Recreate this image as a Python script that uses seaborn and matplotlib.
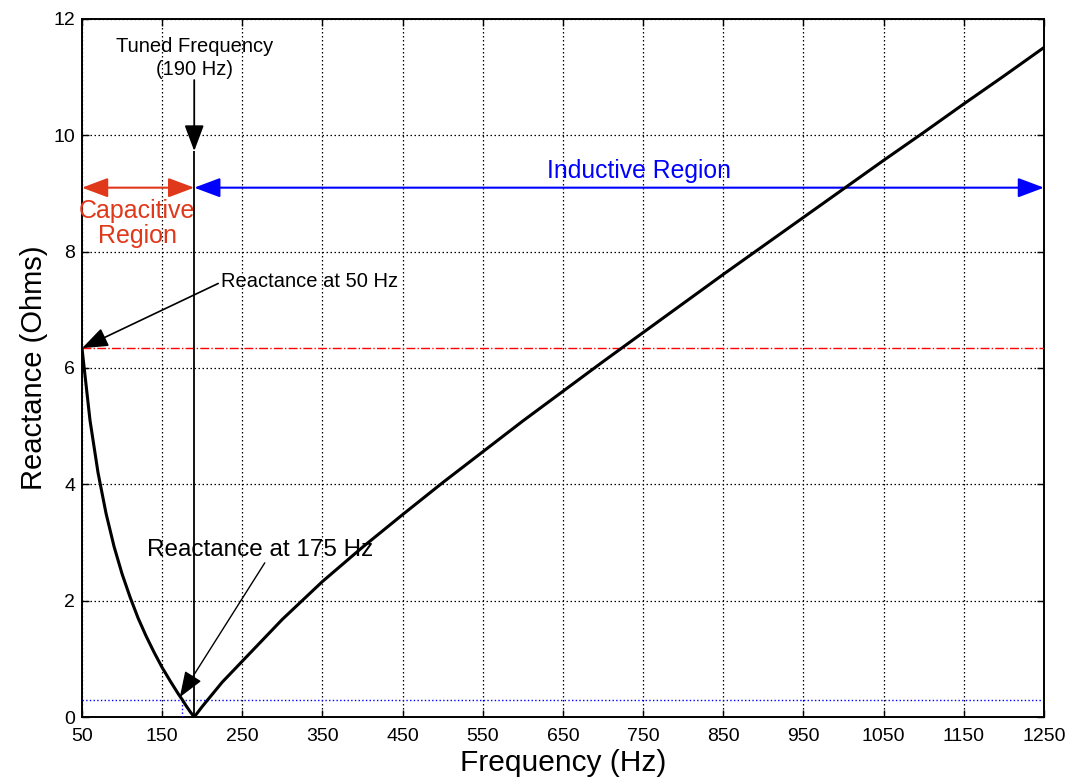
import numpy as np
import pandas as pd
import matplotlib
matplotlib.use("Agg")
import matplotlib.pyplot as plt
import seaborn as sns

# reactance curve of the tuned filter
freq_hz = [50, 60, 70, 80, 90, 100, 110, 120, 130, 140, 150, 160, 170, 175,
           180, 185, 190, 200, 225, 250, 275, 300, 350, 400, 450, 500, 550, 600,
           650, 700, 750, 800, 850, 900, 950, 1000, 1050, 1100, 1150, 1200, 1250]
reactance_ohm = [6.34, 5.10, 4.20, 3.50, 2.93, 2.46, 2.06, 1.70, 1.39, 1.11,
                 0.85, 0.62, 0.40, 0.30, 0.19, 0.09, 0.0, 0.18, 0.60, 0.96,
                 1.32, 1.68, 2.33, 2.92, 3.48, 4.03, 4.56, 5.09, 5.60, 6.11, 6.61,
                 7.11, 7.61, 8.10, 8.59, 9.08, 9.57, 10.05, 10.54, 11.02, 11.51]

tuned_hz = 190
x_at_50 = 6.34
x_at_175 = 0.30
region_y = 9.1

xticks = list(range(50, 1251, 100))
yticks = [0, 2, 4, 6, 8, 10, 12]

red = "#E0381A"
blue = "#0000FF"

sns.set_style("ticks")
plt.rcParams["font.family"] = ["Liberation Sans", "DejaVu Sans"]
plt.rcParams["text.color"] = "black"
plt.rcParams["axes.labelcolor"] = "black"

df = pd.DataFrame({"Frequency (Hz)": freq_hz, "Reactance (Ohms)": reactance_ohm})

fig = plt.figure(figsize=(10.69, 7.78), dpi=100)
ax = fig.add_axes([0.0767, 0.0784, 0.8999, 0.8972])

sns.lineplot(data=df, x="Frequency (Hz)", y="Reactance (Ohms)", color="black",
             linewidth=2.2, ax=ax, zorder=5)

ax.set_xlim(50, 1250)
ax.set_ylim(0, 12)
ax.set_xticks(xticks)
ax.set_yticks(yticks)
ax.grid(True, color="black", linestyle=(0, (1.2, 2.0)), linewidth=0.9)
ax.tick_params(direction="in", top=True, right=True, length=5, width=1,
               labelsize=14, colors="black")
ax.tick_params(axis="x", pad=8)
ax.tick_params(axis="y", pad=5)
for s in ax.spines.values():
    s.set_linewidth(1.4)
    s.set_color("black")
ax.set_xlabel("Frequency (Hz)", fontsize=21.5, labelpad=3)
ax.set_ylabel("Reactance (Ohms)", fontsize=21, labelpad=4)

# reference levels
ax.axhline(x_at_50, color="red", linestyle="-.", linewidth=1.0, zorder=4)
ax.axhline(x_at_175, color=blue, linestyle=":", linewidth=1.0, zorder=4)
ax.vlines(175, 0, x_at_175, color=blue, linestyle=":", linewidth=1.0, zorder=4)

# tuned frequency marker
head = "-|>,head_length=0.8,head_width=0.3"
ax.vlines(tuned_hz, 0, 9.73, color="black", linewidth=1.3, zorder=6)
ax.annotate("", xy=(tuned_hz, 9.73), xytext=(tuned_hz, 10.95),
            arrowprops=dict(arrowstyle=head, color="black", lw=1.3,
                            mutation_scale=20, shrinkA=0, shrinkB=0), zorder=6)
ax.text(tuned_hz, 11.33, "Tuned Frequency\n(190 Hz)", ha="center", va="center",
        fontsize=14.5, linespacing=1.25)

# regions
dbl = "<|-|>,head_length=0.8,head_width=0.3"
ax.annotate("", xy=(50, region_y), xytext=(tuned_hz, region_y),
            arrowprops=dict(arrowstyle=dbl, color=red, lw=1.5,
                            mutation_scale=20, shrinkA=0, shrinkB=0))
ax.annotate("", xy=(tuned_hz, region_y), xytext=(1250, region_y),
            arrowprops=dict(arrowstyle=dbl, color=blue, lw=1.5,
                            mutation_scale=20, shrinkA=0, shrinkB=0))
ax.text(119, 8.48, "Capacitive\nRegion", color=red, ha="center", va="center",
        fontsize=18, linespacing=1.05)
ax.text(745, 9.39, "Inductive Region", color=blue, ha="center", va="center",
        fontsize=17.8)

# reactance labels
ax.annotate("Reactance at 50 Hz", xy=(50, x_at_50), xytext=(224, 7.48),
            ha="left", va="center", fontsize=14.5,
            arrowprops=dict(arrowstyle=head, color="black", lw=1.2,
                            mutation_scale=20, shrinkA=0, shrinkB=0,
                            relpos=(0, 0.5)))
ax.text(131, 2.87, "Reactance at 175 Hz", ha="left", va="center", fontsize=17.5)
ax.annotate("", xy=(172, 0.34), xytext=(278, 2.65),
            arrowprops=dict(arrowstyle=head, color="black", lw=1.0,
                            mutation_scale=20, shrinkA=0, shrinkB=0), zorder=6)

fig.savefig("out.png", dpi=100)
